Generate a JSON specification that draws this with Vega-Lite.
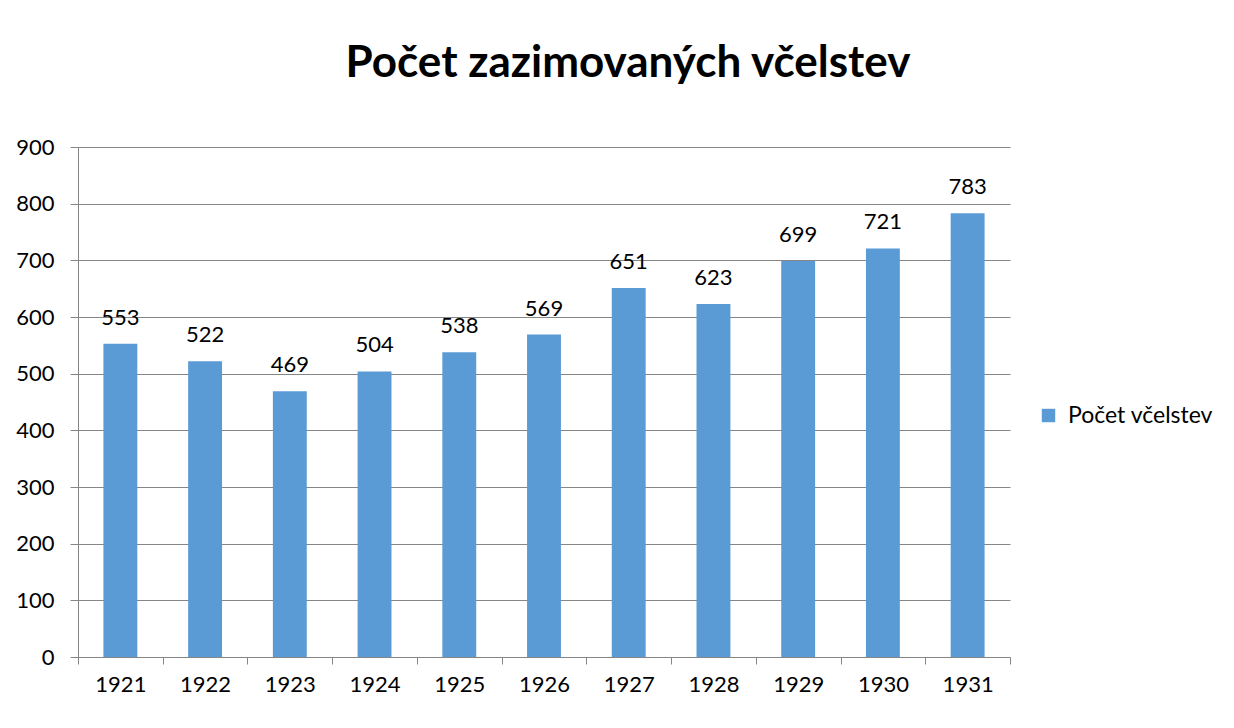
{
  "$schema": "https://vega.github.io/schema/vega-lite/v6.json",
  "width": 932,
  "height": 510,
  "autosize": {"type": "none"},
  "padding": {"left": 78, "top": 147, "right": 224, "bottom": 71},
  "background": "white",
  "title": {
    "text": "Počet zazimovaných včelstev",
    "font": "Lato",
    "fontSize": 44,
    "fontWeight": "bold",
    "color": "#000000",
    "anchor": "middle",
    "dx": 84,
    "offset": 50
  },
  "data": {
    "values": [
      {"rok": "1921", "pocet": 553, "serie": "Počet včelstev"},
      {"rok": "1922", "pocet": 522, "serie": "Počet včelstev"},
      {"rok": "1923", "pocet": 469, "serie": "Počet včelstev"},
      {"rok": "1924", "pocet": 504, "serie": "Počet včelstev"},
      {"rok": "1925", "pocet": 538, "serie": "Počet včelstev"},
      {"rok": "1926", "pocet": 569, "serie": "Počet včelstev"},
      {"rok": "1927", "pocet": 651, "serie": "Počet včelstev"},
      {"rok": "1928", "pocet": 623, "serie": "Počet včelstev"},
      {"rok": "1929", "pocet": 699, "serie": "Počet včelstev"},
      {"rok": "1930", "pocet": 721, "serie": "Počet včelstev"},
      {"rok": "1931", "pocet": 783, "serie": "Počet včelstev"}
    ]
  },
  "encoding": {
    "x": {
      "field": "rok",
      "type": "ordinal",
      "title": null,
      "scale": {"paddingInner": 0, "paddingOuter": 0},
      "axis": {
        "labelAngle": 0,
        "labelFont": "Lato",
        "labelFontSize": 22,
        "labelColor": "#000000",
        "labelPadding": 10,
        "tickBand": "extent",
        "tickSize": 7,
        "tickColor": "#868686",
        "domainColor": "#868686",
        "grid": false
      }
    },
    "y": {
      "field": "pocet",
      "type": "quantitative",
      "title": null,
      "scale": {"domain": [0, 900], "nice": false},
      "axis": {
        "values": [0, 100, 200, 300, 400, 500, 600, 700, 800, 900],
        "labelFont": "Lato",
        "labelFontSize": 22,
        "labelColor": "#000000",
        "labelPadding": 16,
        "tickSize": 8,
        "tickColor": "#868686",
        "domainColor": "#868686",
        "gridColor": "#868686",
        "gridOpacity": 1
      }
    }
  },
  "layer": [
    {
      "mark": {"type": "bar", "color": "#5B9BD5", "width": {"band": 0.4}},
      "encoding": {
        "color": {
          "field": "serie",
          "type": "nominal",
          "scale": {"range": ["#5B9BD5"]},
          "legend": {
            "title": null,
            "orient": "none",
            "legendX": 959,
            "legendY": 257,
            "symbolType": "square",
            "symbolSize": 180,
            "symbolStrokeWidth": 0,
            "labelFont": "Lato",
            "labelFontSize": 23,
            "labelColor": "#000000",
            "labelOffset": 8
          }
        }
      }
    },
    {
      "mark": {"type": "text", "baseline": "bottom", "dy": -14, "font": "Lato", "fontSize": 22, "color": "#000000"},
      "encoding": {"text": {"field": "pocet", "type": "quantitative"}}
    }
  ],
  "config": {"view": {"stroke": null}}
}
